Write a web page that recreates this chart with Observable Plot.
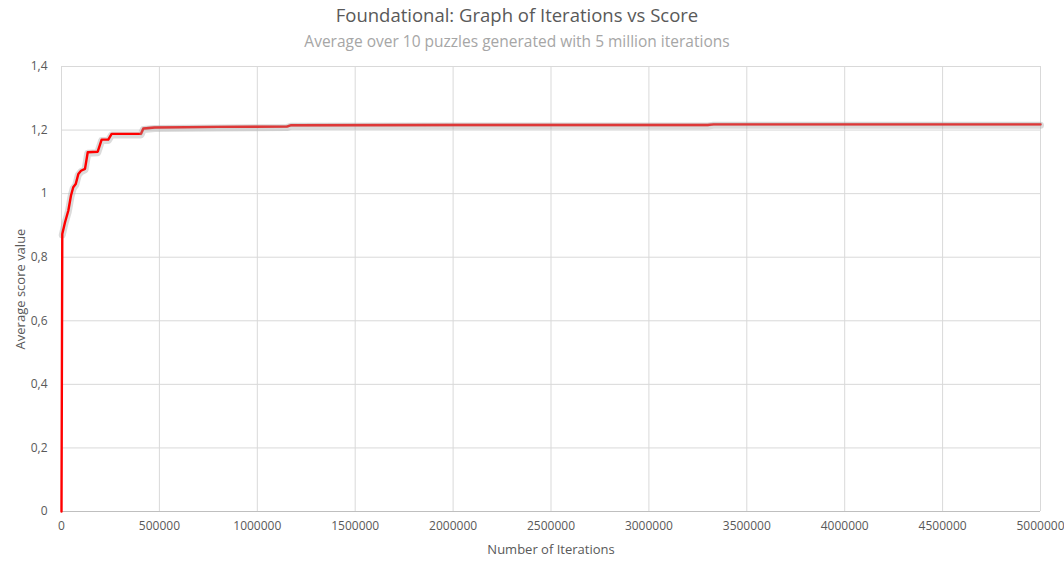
<!DOCTYPE html>
<html>
<head>
<meta charset="utf-8">
<script src="https://cdn.jsdelivr.net/npm/d3@7"></script>
<script src="https://cdn.jsdelivr.net/npm/@observablehq/plot@0.6"></script>
<style>
  html, body { margin: 0; padding: 0; background: #fff; }
  #wrap { width: 1064px; font-family: "Open Sans", "Liberation Sans", sans-serif; }
  #title { height: 52px; text-align: center; position: relative; }
  #title .t { position: absolute; left: 0; right: 30px; top: 2px; font-size: 18.5px; color: #595959; white-space: nowrap; }
  #title .s { position: absolute; left: 0; right: 30px; top: 30px; font-size: 15.5px; color: #a6a6a6; white-space: nowrap; }
  svg { display: block; }
</style>
</head>
<body>
<div id="wrap">
  <div id="title">
    <div class="t">Foundational: Graph of Iterations vs Score</div>
    <div class="s">Average over 10 puzzles generated with 5 million iterations</div>
  </div>
  <div id="chart"></div>
</div>
<script>
const iterations = [0, 4000, 18000, 35000, 48500, 60000, 72500, 86000, 99600, 120000, 134000, 185000, 205000, 239000, 256000, 406000, 418000, 477000, 800000, 1150000, 1170000, 2000000, 3300000, 3330000, 5000000];
const scores     = [0, 0.873, 0.91, 0.947, 0.994, 1.02, 1.03, 1.062, 1.072, 1.078, 1.13, 1.132, 1.17, 1.17, 1.188, 1.188, 1.205, 1.208, 1.21, 1.211, 1.215, 1.216, 1.216, 1.218, 1.218];
const xTicks = [0, 500000, 1000000, 1500000, 2000000, 2500000, 3000000, 3500000, 4000000, 4500000, 5000000];
const yTicks = [0, 0.2, 0.4, 0.6, 0.8, 1, 1.2, 1.4];
const xLabel = "Number of Iterations";
const yLabel = "Average score value";

const data = iterations.map((x, i) => ({x, y: scores[i]}));
const late = data.filter(d => d.x >= 406000);

const chart = Plot.plot({
  width: 1064,
  height: 509,
  marginLeft: 61,
  marginRight: 24,
  marginTop: 14,
  marginBottom: 50,
  style: {fontFamily: "'Open Sans', 'Liberation Sans', sans-serif", fontSize: "12px", color: "#595959", background: "#fff"},
  x: {domain: [0, 5000000], ticks: xTicks, tickFormat: d => String(d), label: xLabel, labelAnchor: "center", labelOffset: 42, tickSize: 0, tickPadding: 10},
  y: {domain: [0, 1.4], ticks: yTicks, tickFormat: d => String(d).replace(".", ","), label: yLabel, labelAnchor: "center", labelOffset: 46, tickSize: 0, tickPadding: 14},
  marks: [
    Plot.gridX(xTicks, {stroke: "#d9d9d9", strokeOpacity: 1, strokeWidth: 1}),
    Plot.gridY(yTicks, {stroke: "#d9d9d9", strokeOpacity: 1, strokeWidth: 1}),
    Plot.ruleY([0], {stroke: "#bfbfbf", strokeWidth: 1}),
    Plot.line(data.slice(1), {x: "x", y: "y", stroke: "#b0b0b0", strokeWidth: 7, strokeOpacity: 0.45, dy: 1}),
    Plot.line(data, {x: "x", y: "y", stroke: "#ff0000", strokeWidth: 2.4}),
    Plot.line(late, {x: "x", y: "y", stroke: "#a0a0a0", strokeWidth: 3, strokeOpacity: 0.35})
  ]
});
chart.querySelectorAll("[aria-label='x-axis label'] text, [aria-label='y-axis label'] text").forEach(t => {
  t.style.fontSize = "13px";
  t.textContent = t.textContent.replace(/\s*[→↑←↓]\s*/g, "").trim();
});
document.getElementById("chart").appendChild(chart);
</script>
</body>
</html>
